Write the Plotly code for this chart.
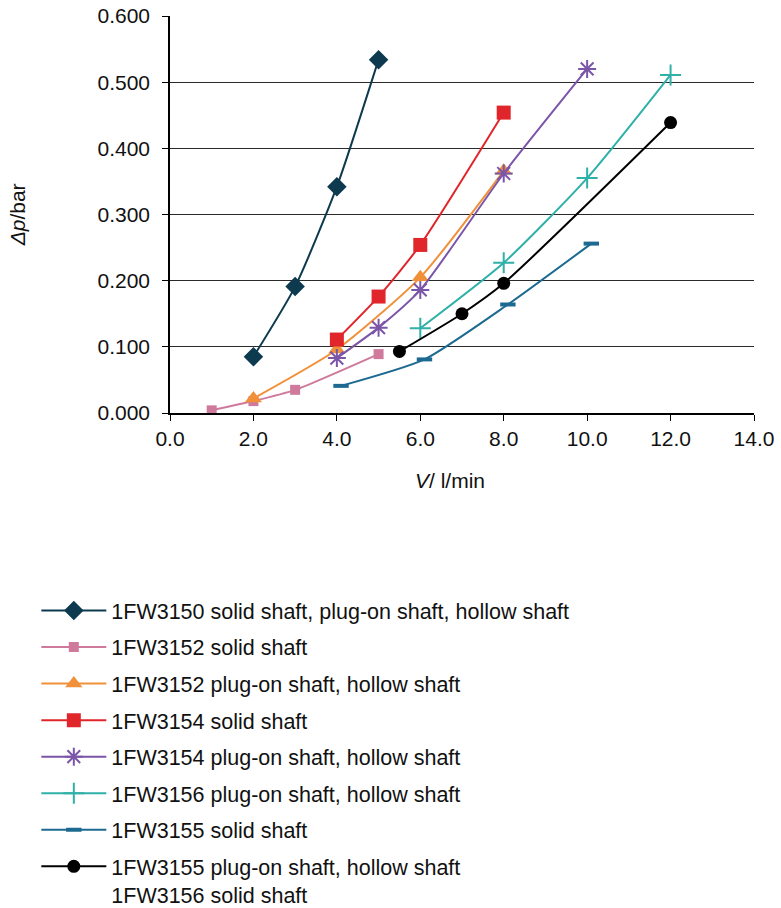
import plotly.graph_objects as go

names = [
    "1FW3150 solid shaft, plug-on shaft, hollow shaft",
    "1FW3152 solid shaft",
    "1FW3152 plug-on shaft, hollow shaft",
    "1FW3154 solid shaft",
    "1FW3154 plug-on shaft, hollow shaft",
    "1FW3156 plug-on shaft, hollow shaft",
    "1FW3155 solid shaft",
    "1FW3155 plug-on shaft, hollow shaft<br>1FW3156 solid shaft",
]

x_3150 = [2.0, 3.0, 4.0, 5.0]
y_3150 = [0.085, 0.191, 0.342, 0.534]

x_3152s = [1.0, 2.0, 3.0, 5.0]
y_3152s = [0.004, 0.018, 0.035, 0.089]

x_3152p = [2.0, 4.0, 6.0, 8.0]
y_3152p = [0.022, 0.096, 0.205, 0.366]

x_3154s = [4.0, 5.0, 6.0, 8.0]
y_3154s = [0.111, 0.176, 0.254, 0.454]

x_3154p = [4.0, 5.0, 6.0, 8.0, 10.0]
y_3154p = [0.083, 0.129, 0.186, 0.362, 0.520]

x_3156p = [6.0, 8.0, 10.0, 12.0]
y_3156p = [0.128, 0.227, 0.355, 0.511]

x_3155s = [4.1, 6.1, 8.1, 10.1]
y_3155s = [0.041, 0.081, 0.164, 0.256]

x_3155p = [5.5, 7.0, 8.0, 12.0]
y_3155p = [0.093, 0.150, 0.196, 0.439]

x_ticks = [0, 2, 4, 6, 8, 10, 12, 14]
y_ticks = [0.0, 0.1, 0.2, 0.3, 0.4, 0.5, 0.6]

series = [
    (x_3150, y_3150, "#0d3a4e", dict(symbol="diamond", size=15)),
    (x_3152s, y_3152s, "#cf7a9c", dict(symbol="square", size=10)),
    (x_3152p, y_3152p, "#f0913a", dict(symbol="triangle-up", size=15)),
    (x_3154s, y_3154s, "#e0262b", dict(symbol="square", size=14)),
    (x_3154p, y_3154p, "#7b55a8", dict(symbol="asterisk", size=15, line=dict(width=2, color="#7b55a8"))),
    (x_3156p, y_3156p, "#2fb0a8", dict(symbol="cross-thin", size=15, line=dict(width=2, color="#2fb0a8"))),
    (x_3155s, y_3155s, "#1c6a91", dict(symbol="line-ew", size=11, line=dict(width=4, color="#1c6a91"))),
    (x_3155p, y_3155p, "#000000", dict(symbol="circle", size=13)),
]

fig = go.Figure()
for i, (xs, ys, col, mk) in enumerate(series):
    mk = dict(mk)
    mk.setdefault("color", col)
    fig.add_trace(go.Scatter(
        x=xs, y=ys, name=names[i], mode="lines+markers",
        line=dict(color=col, width=2, shape="spline", smoothing=0.6),
        marker=mk, legendgroup=f"g{i}",
    ))

font = "Liberation Sans, Arial, sans-serif"
fig.update_layout(
    width=781, height=908,
    margin=dict(l=170, r=27, t=16, b=495, autoexpand=False),
    paper_bgcolor="white", plot_bgcolor="white",
    font=dict(family=font, size=21, color="#111111"),
    showlegend=True,
    legend=dict(
        xref="container", yref="container",
        x=0.0465, y=0.3502, xanchor="left", yanchor="top",
        font=dict(size=21.5, family=font),
        tracegroupgap=5.6, itemwidth=65, valign="top",
        traceorder="grouped",
    ),
    xaxis=dict(
        range=[0, 14], tickvals=x_ticks, ticktext=[f"{v:.1f}" for v in x_ticks],
        showgrid=False, showline=True, linecolor="black", linewidth=1.5,
        ticks="outside", ticklen=6, tickcolor="black", zeroline=False,
        tickangle=0, ticklabeloverflow="allow",
    ),
    yaxis=dict(
        range=[0, 0.6], tickvals=y_ticks, ticktext=[f"{v:.3f}" for v in y_ticks],
        showgrid=True, gridcolor="#2a2a2a", gridwidth=1,
        showline=True, linecolor="black", linewidth=1.5,
        ticks="outside", ticklen=6, tickcolor="black", zeroline=False,
        ticklabelstandoff=8, ticklabeloverflow="allow",
    ),
    annotations=[
        dict(text="<i>Δp</i>/bar", xref="paper", yref="paper",
             x=-0.2605, y=0.5, xanchor="center", yanchor="middle",
             textangle=-90, showarrow=False, font=dict(size=21)),
        dict(text="<i>V</i>/ l/min", xref="paper", yref="paper",
             x=0.4786, y=-0.1688, xanchor="center", yanchor="middle",
             showarrow=False, font=dict(size=21)),
    ],
)

fig.write_html(
    "out.html",
    config={"displayModeBar": False},
    post_script="document.body.style.margin='0';document.body.style.overflow='hidden';",
)
